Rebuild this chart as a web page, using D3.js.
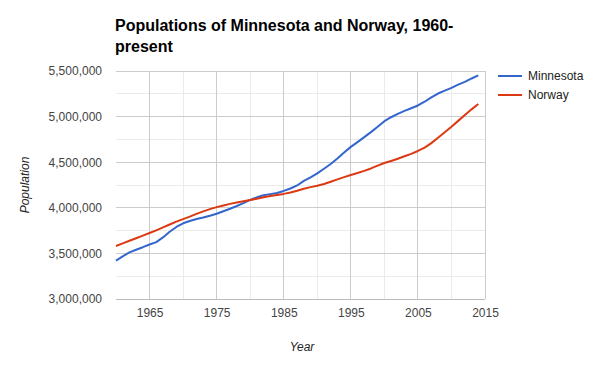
<!DOCTYPE html>
<html>
<head>
<meta charset="utf-8">
<script src="https://cdn.jsdelivr.net/npm/d3@7"></script>
<style>
  body { margin: 0; background: #fff; }
  text { font-family: Arial, "Liberation Sans", sans-serif; }
</style>
</head>
<body>
<script>
const W = 600, H = 371;

const years = d3.range(1960, 2015);
const minnesota = [
  3420000, 3468000, 3511000, 3540000, 3568000, 3598000, 3624000, 3675000, 3738000, 3790000,
  3830000, 3855000, 3877000, 3893000, 3912000, 3935000, 3962000, 3990000, 4020000, 4052000,
  4086000, 4115000, 4138000, 4150000, 4163000, 4185000, 4212000, 4245000, 4295000, 4334000,
  4378000, 4428000, 4480000, 4540000, 4605000, 4668000, 4720000, 4775000, 4830000, 4888000,
  4950000, 4993000, 5030000, 5062000, 5092000, 5122000, 5163000, 5210000, 5253000, 5285000,
  5315000, 5350000, 5380000, 5418000, 5452000
];
const norway = [
  3581239, 3609800, 3638918, 3666537, 3694339, 3723168, 3753012, 3784539, 3816486, 3847707,
  3875763, 3903039, 3933004, 3960612, 3985258, 4007313, 4026152, 4043205, 4058671, 4072517,
  4085620, 4099702, 4114787, 4128432, 4140099, 4152516, 4167354, 4186905, 4209488, 4226901,
  4241473, 4261732, 4286401, 4311991, 4336613, 4359184, 4381336, 4405157, 4431464, 4461913,
  4490967, 4513751, 4538159, 4564855, 4591910, 4623291, 4660677, 4709153, 4768212, 4828726,
  4889252, 4953088, 5018573, 5079623, 5137232
];
const seriesNames = ["Minnesota", "Norway"];
const colors = ["#3366cc", "#dc3912"];
const xTicks = [1965, 1975, 1985, 1995, 2005, 2015];
const xMinor = [1970, 1980, 1990, 2000, 2010];
const yTicks = [3000000, 3500000, 4000000, 4500000, 5000000, 5500000];
const yMinor = [3250000, 3750000, 4250000, 4750000, 5250000];

const plot = {left: 116, right: 485, top: 71, bottom: 299};

const x = d3.scaleLinear().domain([1960, 2015]).range([plot.left, plot.right]);
const y = d3.scaleLinear().domain([3000000, 5500000]).range([plot.bottom, plot.top]);

const svg = d3.select("body").append("svg")
  .attr("width", W)
  .attr("height", H);

// minor grid
svg.append("g").selectAll("line").data(xMinor).join("line")
  .attr("x1", d => x(d)).attr("x2", d => x(d))
  .attr("y1", plot.top).attr("y2", plot.bottom)
  .attr("stroke", "#ebebeb").attr("shape-rendering", "crispEdges");
svg.append("g").selectAll("line").data(yMinor).join("line")
  .attr("x1", plot.left).attr("x2", plot.right)
  .attr("y1", d => y(d)).attr("y2", d => y(d))
  .attr("stroke", "#ebebeb").attr("shape-rendering", "crispEdges");

// major grid
svg.append("g").selectAll("line").data(xTicks).join("line")
  .attr("x1", d => x(d)).attr("x2", d => x(d))
  .attr("y1", plot.top).attr("y2", plot.bottom)
  .attr("stroke", "#cccccc").attr("shape-rendering", "crispEdges");
svg.append("g").selectAll("line").data(yTicks).join("line")
  .attr("x1", plot.left).attr("x2", plot.right)
  .attr("y1", d => y(d)).attr("y2", d => y(d))
  .attr("stroke", d => d === 3000000 ? "#bbbbbb" : "#cccccc")
  .attr("shape-rendering", "crispEdges");

// axes labels
const yAxis = d3.axisLeft(y).tickValues(yTicks).tickSize(0).tickPadding(14)
  .tickFormat(d3.format(","));
const gy = svg.append("g").attr("transform", `translate(${plot.left},0)`).call(yAxis);
gy.select(".domain").remove();
gy.selectAll("text").attr("font-size", 12).attr("fill", "#444").attr("font-family", "Arial, sans-serif");

const xAxis = d3.axisBottom(x).tickValues(xTicks).tickSize(0).tickPadding(9)
  .tickFormat(d3.format("d"));
const gx = svg.append("g").attr("transform", `translate(0,${plot.bottom})`).call(xAxis);
gx.select(".domain").remove();
gx.selectAll("text").attr("font-size", 12).attr("fill", "#444").attr("font-family", "Arial, sans-serif");

// lines
const data = [minnesota, norway];
const line = d3.line().x((d, i) => x(years[i])).y(d => y(d));
svg.append("g").selectAll("path").data(data).join("path")
  .attr("d", line)
  .attr("fill", "none")
  .attr("stroke", (d, i) => colors[i])
  .attr("stroke-width", 2)
  .attr("stroke-linejoin", "round");

// title
const title = svg.append("text")
  .attr("x", 115).attr("y", 31)
  .attr("font-size", 16).attr("font-weight", "bold").attr("fill", "#000");
title.append("tspan").attr("x", 115).text("Populations of Minnesota and Norway, 1960-");
title.append("tspan").attr("x", 115).attr("dy", 21).text("present");

// axis titles
svg.append("text")
  .attr("x", 302).attr("y", 351)
  .attr("text-anchor", "middle")
  .attr("font-size", 12).attr("font-style", "italic").attr("fill", "#222")
  .text("Year");
svg.append("text")
  .attr("transform", "translate(29,185) rotate(-90)")
  .attr("text-anchor", "middle")
  .attr("font-size", 12).attr("font-style", "italic").attr("fill", "#222")
  .text("Population");

// legend
const legend = svg.append("g").selectAll("g").data(seriesNames).join("g")
  .attr("transform", (d, i) => `translate(498,${76 + i * 19})`);
legend.append("line")
  .attr("x1", 0).attr("x2", 24).attr("y1", 0).attr("y2", 0)
  .attr("stroke", (d, i) => colors[i]).attr("stroke-width", 2);
legend.append("text")
  .attr("x", 30).attr("y", 4)
  .attr("font-size", 12).attr("fill", "#222")
  .text(d => d);
</script>
</body>
</html>
